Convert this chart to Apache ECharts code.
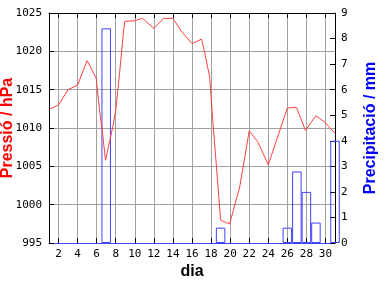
<!DOCTYPE html>
<html>
<head>
<meta charset="utf-8">
<script src="https://cdn.jsdelivr.net/npm/echarts@6/dist/echarts.min.js"></script>
<style>html,body{margin:0;padding:0;background:#fff}#c{width:384px;height:288px}</style>
</head>
<body>
<div id="c"></div>
<script>
// Pressure readings: [day, hPa]
const pressureDays = [1.0,2.0,3.0,4.0,5.0,5.95,6.3,6.55,6.93,7.35,7.7,8.0,8.4,8.85,8.95,10.0,10.8,12.0,13.0,14.0,14.9,16.0,17.0,17.2,17.85,18.1,18.37,18.65,19.0,19.5,19.95,21.0,22.0,22.9,24.0,26.0,26.95,27.9,29.0,29.9,31.0];
const pressureValues = [1012.4,1013.0,1015.0,1015.6,1018.8,1016.5,1012.3,1010.0,1005.8,1008.2,1010.2,1012.3,1017.1,1023.0,1023.9,1024.0,1024.3,1023.0,1024.3,1024.3,1022.6,1021.0,1021.6,1020.6,1016.7,1012.3,1008.0,1003.6,998.0,997.7,997.5,1002.3,1009.6,1008.2,1005.2,1012.6,1012.7,1009.7,1011.6,1010.8,1009.3];
// Precipitation: day and mm
const precipDays = [7,19,26,27,28,29,31];
const precipValues = [8.4,0.6,0.6,2.8,2.0,0.8,4.0];
const dayTicks = [2,4,6,8,10,12,14,16,18,20,22,24,26,28,30];

const pressureData = pressureDays.map((d,i)=>[d,pressureValues[i]]);
const precipData = precipDays.map((d,i)=>[d,precipValues[i]]);

const mono = 'DejaVu Sans Mono';
const chart = echarts.init(document.getElementById('c'));
chart.setOption({
  animation:false,
  backgroundColor:'#fff',
  grid:{left:49,right:49,top:13,bottom:45,containLabel:false,outerBoundsMode:'none'},
  xAxis:[{
    type:'value',min:1,max:31,position:'bottom',
    name:'dia',nameLocation:'middle',nameGap:21,nameMoveOverlap:false,
    nameTextStyle:{fontFamily:'Liberation Sans',fontWeight:'bold',fontSize:16,color:'#000'},
    axisLine:{show:true,lineStyle:{color:'#4040ff',width:1}},
    axisTick:{show:true,inside:true,length:5,customValues:dayTicks,lineStyle:{color:'#000'}},
    axisLabel:{show:true,customValues:dayTicks,margin:6,fontFamily:mono,fontSize:11,color:'#000'},
    splitLine:{show:true,lineStyle:{color:'#a0a0a0',width:1}}
  },{
    type:'value',min:1,max:31,position:'top',
    axisLine:{show:true,lineStyle:{color:'#000',width:1}},
    axisTick:{show:true,inside:true,length:5,customValues:dayTicks,lineStyle:{color:'#000'}},
    axisLabel:{show:false},
    splitLine:{show:false}
  }],
  yAxis:[{
    type:'value',min:995,max:1025,interval:5,position:'left',
    name:'Pressió / hPa',nameLocation:'middle',nameGap:33,nameRotate:90,nameMoveOverlap:false,
    nameTextStyle:{fontFamily:'Liberation Sans',fontWeight:'bold',fontSize:16,color:'#ff0000'},
    axisLine:{show:true,lineStyle:{color:'#000',width:1}},
    axisTick:{show:true,inside:true,length:5,lineStyle:{color:'#000'}},
    axisLabel:{margin:7,fontFamily:mono,fontSize:11,color:'#000',formatter:v=>String(v)},
    splitLine:{show:true,lineStyle:{color:'#a0a0a0',width:1}}
  },{
    type:'value',min:0,max:9,interval:1,position:'right',
    name:'Precipitació / mm',nameLocation:'middle',nameGap:28,nameRotate:90,nameMoveOverlap:false,
    nameTextStyle:{fontFamily:'Liberation Sans',fontWeight:'bold',fontSize:16,color:'#0000ff'},
    axisLine:{show:true,lineStyle:{color:'#000',width:1}},
    axisTick:{show:true,inside:true,length:5,lineStyle:{color:'#000'}},
    axisLabel:{margin:6,fontFamily:mono,fontSize:11,color:'#000'},
    splitLine:{show:false}
  }],
  series:[{
    type:'bar',xAxisIndex:0,yAxisIndex:1,data:precipData,barWidth:9.5,clip:true,
    itemStyle:{color:'rgba(0,0,0,0)',borderColor:'#4040ff',borderWidth:1}
  },{
    type:'line',xAxisIndex:0,yAxisIndex:0,data:pressureData,showSymbol:false,symbol:'none',
    lineStyle:{color:'#ff4040',width:1},z:3
  }]
});
</script>
</body>
</html>
